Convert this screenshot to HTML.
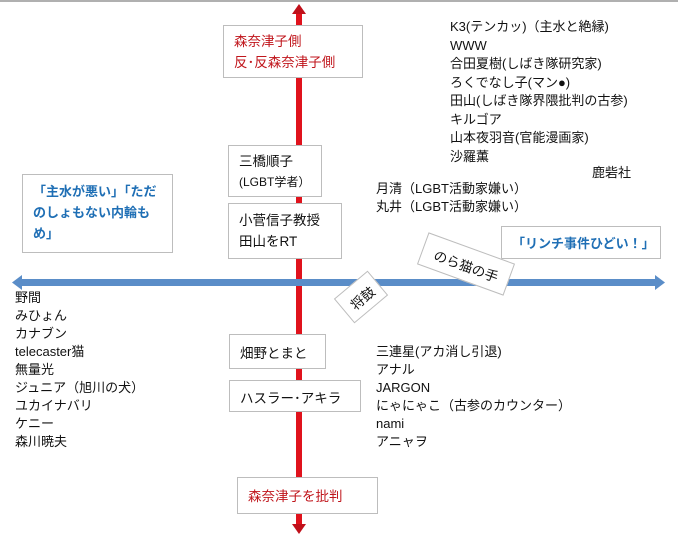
<!DOCTYPE html>
<html><head><meta charset="utf-8"><style>
html,body{margin:0;padding:0;background:#fff;}
body{width:678px;height:545px;position:relative;overflow:hidden;font-family:"Liberation Sans","Noto Sans CJK JP",sans-serif;font-size:13px;color:#111;}
.b{position:absolute;background:#fff;border:1px solid #bdbdbd;box-sizing:border-box;}
.t{position:absolute;line-height:18px;white-space:nowrap;}
.red{color:#c0161c;}
.blue{color:#1f6fb5;font-weight:bold;}
</style></head><body>
<div style="position:absolute;left:0;top:0;width:678px;height:2px;background:#b0b0b0"></div>
<svg width="678" height="545" style="position:absolute;left:0;top:0">
<rect x="296" y="12" width="6" height="514" fill="#e0121c"/>
<polygon points="292,14 299,4 306,14" fill="#c0101a"/>
<polygon points="292,524 299,534 306,524" fill="#c0101a"/>
<rect x="22" y="279" width="634" height="7" fill="#5a8dc8"/>
<polygon points="22,275 12,282.5 22,290" fill="#5a8dc8"/>
<polygon points="655,275 665,282.5 655,290" fill="#5a8dc8"/>
</svg>
<div class="b red" style="left:223px;top:25px;width:140px;height:53px;padding:5px 0 0 10px;line-height:21px;font-size:13.5px">森奈津子側<br>反･反森奈津子側</div>
<div class="b" style="left:228px;top:145px;width:94px;height:52px;padding:6px 0 0 10px;line-height:20px;font-size:13.5px">三橋順子<br><span style="font-size:12px">(LGBT学者）</span></div>
<div class="b" style="left:228px;top:203px;width:114px;height:56px;padding:6px 0 0 10px;line-height:21px;font-size:13.5px">小菅信子教授<br>田山をRT</div>
<div class="b blue" style="left:22px;top:174px;width:151px;height:79px;padding:6px 0 0 10px;line-height:21px;font-size:13px">「主水が悪い」「ただ<br>のしょもない内輪も<br>め」</div>
<div class="b blue" style="left:501px;top:226px;width:160px;height:33px;padding:6px 0 0 10px;font-size:13px">「リンチ事件ひどい！」</div>
<div class="b" style="left:229px;top:334px;width:97px;height:35px;padding:7px 0 0 10px;font-size:13.5px">畑野とまと</div>
<div class="b" style="left:229px;top:380px;width:132px;height:32px;padding:6px 0 0 10px;font-size:13.5px">ハスラー･アキラ</div>
<div class="b red" style="left:237px;top:477px;width:141px;height:37px;padding:7px 0 0 10px;font-size:13.5px">森奈津子を批判</div>
<div class="b" style="left:420px;top:247px;width:92px;height:34px;transform:rotate(20deg);padding:7px 0 0 12px;font-size:13.5px">のら猫の手</div>
<div class="b" style="left:339px;top:281px;width:44px;height:32px;transform:rotate(-40deg);padding:6px 0 0 8px;font-size:13.5px">将鼓</div>
<div class="t" style="left:450px;top:18px;line-height:18.5px">K3(テンカッ)（主水と絶縁)<br>WWW<br>合田夏樹(しばき隊研究家)<br>ろくでなし子(マン●)<br>田山(しばき隊界隈批判の古参)<br>キルゴア<br>山本夜羽音(官能漫画家)<br>沙羅薫</div>
<div class="t" style="left:592px;top:164px">鹿砦社</div>
<div class="t" style="left:376px;top:180px">月清（LGBT活動家嫌い）<br>丸井（LGBT活動家嫌い）</div>
<div class="t" style="left:15px;top:289px">野間<br>みひょん<br>カナブン<br>telecaster猫<br>無量光<br>ジュニア（旭川の犬）<br>ユカイナバリ<br>ケニー<br>森川暁夫</div>
<div class="t" style="left:376px;top:343px">三連星(アカ消し引退)<br>アナル<br>JARGON<br>にゃにゃこ（古参のカウンター）<br>nami<br>アニャヲ</div>
</body></html>
